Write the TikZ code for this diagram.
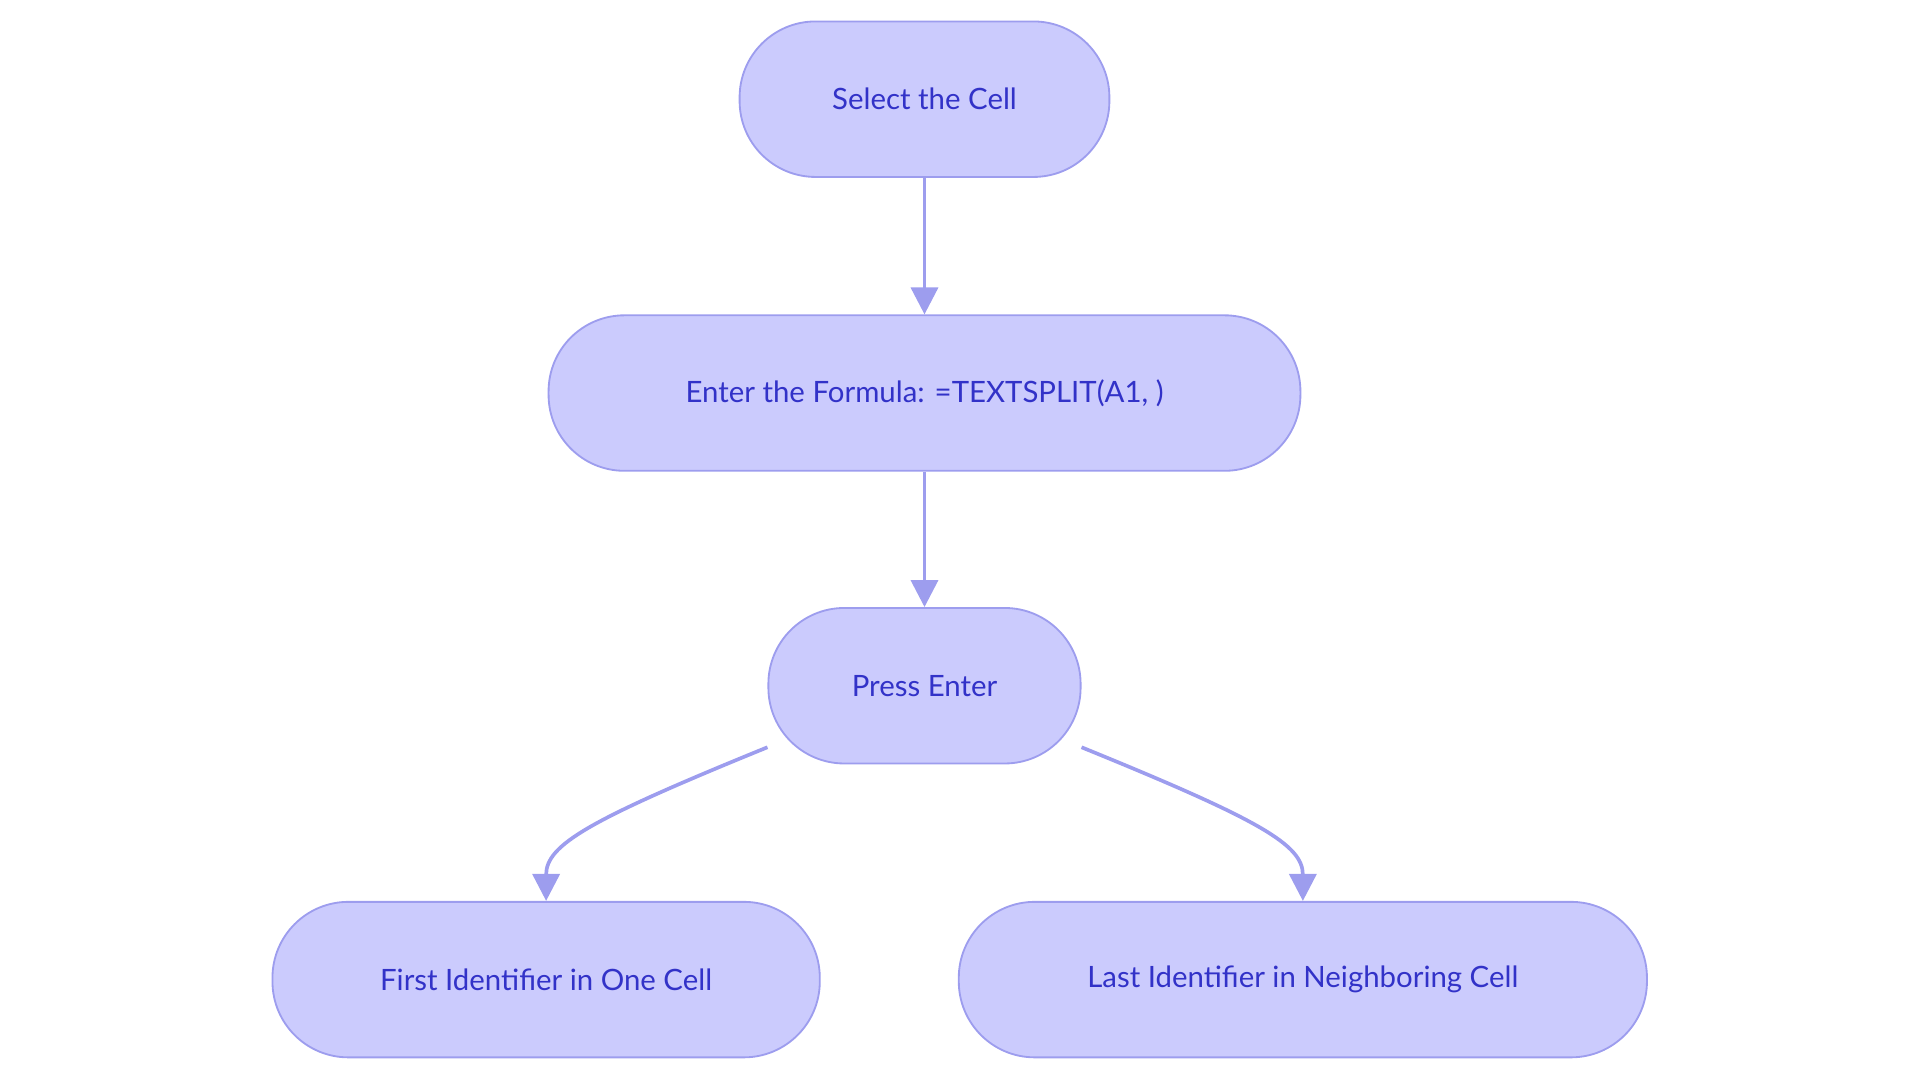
\documentclass[tikz,border=0pt]{standalone}
\usepackage{fontspec}
\setmainfont{Lato}
\usepackage{xcolor}
\usetikzlibrary{arrows.meta}
\definecolor{boxfill}{HTML}{CBCBFD}
\definecolor{boxline}{HTML}{9D9DEE}
\definecolor{boxtext}{HTML}{3232C8}
\newcommand\bxh{127pt}
\newcommand\bxr{62pt}

\tikzset{
  stepbox/.style={draw=boxline,fill=boxfill,text=boxtext,line width=1.5pt,
    rounded corners=\bxr,minimum height=\bxh,font=\fontsize{24}{28}\selectfont},
  flow/.style={draw=boxline,line width=3pt,-{Triangle[length=22pt,width=22pt]}}
}

\begin{document}
\begin{tikzpicture}[x=1pt,y=-1pt]
    \useasboundingbox (0,0) rectangle (1568,884);

    \node[stepbox,minimum width=302pt] (select) at (755,81) {Select the Cell};
    \node[stepbox,minimum width=614pt] (formula) at (755,321) {Enter the Formula: =TEXTSPLIT(A1, )};
    \node[stepbox,minimum width=255pt] (press) at (755,560) {Press Enter};
    \node[stepbox,minimum width=447pt] (first) at (446,800) {First Identifier in One Cell};
    \node[stepbox,minimum width=562pt] (last) at (1064,800) {Last Identifier in Neighboring Cell};

    \draw[flow] (select) -- (formula);
    \draw[flow] (formula) -- (press);
    \draw[flow] ([yshift=14pt]press.south west) .. controls (480,670) and (446,690) .. (first.north);
    \draw[flow] ([yshift=14pt]press.south east) .. controls (1030,670) and (1064,690) .. (last.north);
\end{tikzpicture}
\end{document}
